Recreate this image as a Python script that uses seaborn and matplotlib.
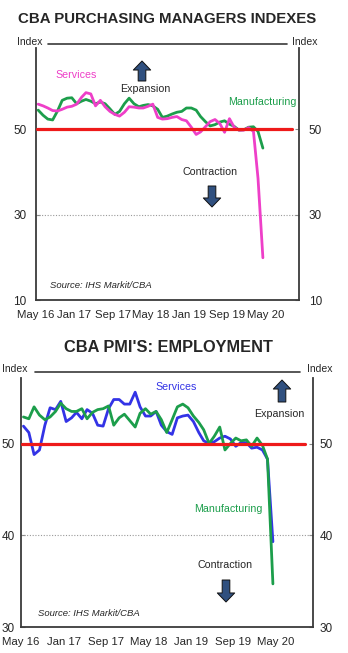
import numpy as np
import pandas as pd
import matplotlib
matplotlib.use("Agg")
import matplotlib.pyplot as plt
from matplotlib.lines import Line2D
from matplotlib.patches import FancyArrowPatch
import seaborn as sns

# ---------------- data ----------------
months = pd.date_range("2016-05-01", periods=48, freq="MS") + pd.Timedelta(days=14)

pmi_services = [55.9, 55.5, 55.0, 54.4, 54.3, 54.7, 55.2, 55.4, 55.9, 57.5,
                58.6, 58.3, 55.5, 56.8, 55.3, 54.2, 53.5, 53.1, 54.0, 55.3,
                55.2, 55.0, 55.0, 55.4, 55.9, 52.8, 52.4, 52.5, 52.8, 53.0,
                52.3, 52.0, 50.5, 48.8, 49.4, 50.6, 51.8, 52.3, 51.4, 49.3,
                52.5, 50.5, 49.8, 49.8, 50.4, 49.5, 38.5, 19.9]
pmi_manufacturing = [54.5, 53.3, 52.4, 52.2, 54.3, 56.8, 57.3, 57.4, 56.0, 56.6,
                     57.0, 56.6, 56.0, 56.4, 56.0, 54.8, 53.5, 54.2, 56.0, 57.3,
                     56.0, 55.3, 55.6, 55.8, 55.5, 54.7, 52.8, 53.1, 53.6, 54.0,
                     54.2, 55.0, 55.0, 54.5, 53.0, 51.8, 50.8, 51.1, 51.7, 52.0,
                     51.2, 50.7, 49.8, 49.9, 50.5, 50.6, 49.5, 45.6]

emp_services = [51.9, 51.2, 48.8, 49.3, 52.0, 53.9, 53.7, 54.6, 52.4, 52.8,
                53.4, 52.7, 53.7, 53.3, 52.0, 51.9, 53.8, 54.8, 54.8, 54.3,
                54.3, 55.6, 54.0, 53.0, 53.0, 53.5, 52.0, 51.3, 51.0, 52.8,
                53.0, 53.1, 52.4, 51.2, 50.3, 50.0, 50.2, 50.6, 50.8, 50.5,
                49.7, 50.1, 50.1, 49.5, 49.6, 49.3, 48.3, 39.3]
emp_manufacturing = [52.9, 52.7, 54.0, 53.1, 52.6, 52.9, 53.5, 54.4, 53.8, 53.5,
                     53.5, 53.8, 52.7, 53.4, 53.7, 53.8, 54.1, 52.0, 52.8, 53.2,
                     52.5, 51.8, 53.3, 53.8, 53.2, 53.5, 52.6, 51.2, 52.6, 54.0,
                     54.3, 53.9, 53.0, 52.3, 51.5, 50.0, 50.8, 51.8, 49.3, 50.0,
                     50.6, 50.3, 50.4, 49.7, 50.6, 49.8, 48.3, 34.7]

xtick_dates = pd.date_range("2016-05-01", "2020-05-01", freq="8MS")
top_yticks = [10, 30, 50]
bot_yticks = [30, 40, 50]

# ---------------- style ----------------
sns.set_style("white")
plt.rcParams["font.family"] = ["Liberation Sans", "DejaVu Sans"]

W, H = 348, 653
fig = plt.figure(figsize=(W / 100, H / 100), dpi=100)

PINK = "#ee3fc8"
GREEN = "#1c9e4b"
BLUE = "#3333e6"
RED = "#ee1a1a"
SPINE = "#3a3a3a"
ARROW = "#30507f"


def ax_rect(left, right, top, bottom):
    return [left / W, 1 - bottom / H, (right - left) / W, (bottom - top) / H]


def ftext(x, y, s, **kw):
    kw.setdefault("ha", "center")
    kw.setdefault("va", "center")
    fig.text(x / W, 1 - y / H, s, **kw)


def fline(x0, x1, y):
    fig.add_artist(Line2D([x0 / W, x1 / W], [1 - y / H, 1 - y / H],
                          transform=fig.transFigure, color=SPINE, lw=1.2))


def farrow(x, y_tail, y_tip):
    arr = FancyArrowPatch(
        (x / W, 1 - y_tail / H), (x / W, 1 - y_tip / H),
        transform=fig.transFigure,
        arrowstyle="simple,head_width=1.25,head_length=0.65,tail_width=0.55",
        mutation_scale=10, fc=ARROW, ec="#111111", lw=0.7,
        shrinkA=0, shrinkB=0, zorder=6)
    fig.add_artist(arr)


def style_axes(ax, ylim, yticks, spine_top, grid_val, xlabsize, ylabpad):
    ax.set_xlim(pd.Timestamp("2016-05-01"), pd.Timestamp("2020-12-01"))
    ax.set_ylim(*ylim)
    ax.axhline(grid_val, color="#9a9a9a", lw=0.8, ls=(0, (1, 1.5)), zorder=1)
    ax.axhline(50, xmin=0.004, xmax=0.973, color=RED, lw=2.3, zorder=5)
    ax.set_xticks(xtick_dates)
    ax.set_xticklabels([d.strftime("%b %y") for d in xtick_dates])
    ax.set_yticks(yticks)
    ax.set_yticklabels([str(v) for v in yticks])
    ax.tick_params(axis="x", direction="in", length=4, width=1, color=SPINE,
                   labelsize=xlabsize, pad=7)
    ax.tick_params(axis="y", direction="in", length=3, width=0.8, color="#888888",
                   labelsize=8.5, pad=ylabpad, left=True, right=True,
                   labelleft=True, labelright=True)
    ax.set_xlabel("")
    ax.set_ylabel("")
    ax.spines["top"].set_visible(False)
    for s in ["left", "right", "bottom"]:
        ax.spines[s].set_color(SPINE)
        ax.spines[s].set_linewidth(1.3)
        ax.spines[s].set_visible(True)
    ax.spines["left"].set_bounds(ylim[0], spine_top)
    ax.spines["right"].set_bounds(ylim[0], spine_top)


# ---------------- top panel ----------------
ax1 = fig.add_axes(ax_rect(36, 299, 44, 300))
df1 = pd.DataFrame({
    "date": list(months) * 2,
    "value": pmi_manufacturing + pmi_services,
    "series": ["Manufacturing"] * 48 + ["Services"] * 48,
})
sns.lineplot(data=df1, x="date", y="value", hue="series",
             palette={"Manufacturing": GREEN, "Services": PINK},
             linewidth=2.0, legend=False, ax=ax1)
style_axes(ax1, (10, 70), top_yticks, 69.0, 30, 8.2, 7)

# ---------------- bottom panel ----------------
ax2 = fig.add_axes(ax_rect(21, 313, 372, 627))
df2 = pd.DataFrame({
    "date": list(months) * 2,
    "value": emp_services + emp_manufacturing,
    "series": ["Services"] * 48 + ["Manufacturing"] * 48,
})
sns.lineplot(data=df2, x="date", y="value", hue="series",
             palette={"Manufacturing": GREEN, "Services": BLUE},
             linewidth=2.0, legend=False, ax=ax2)
style_axes(ax2, (30, 57.8), bot_yticks, 57.1, 40, 8.2, 4.5)

# ---------------- titles and frame text ----------------
ftext(167, 19, "CBA PURCHASING MANAGERS INDEXES", fontsize=10.8, fontweight="bold")
ftext(168, 347, "CBA PMI'S: EMPLOYMENT", fontsize=11.8, fontweight="bold")

ftext(30, 42, "Index", fontsize=7.5)
ftext(305, 42, "Index", fontsize=7.5)
fline(48, 287, 44)
ftext(15, 369, "Index", fontsize=7.5)
ftext(320, 369, "Index", fontsize=7.5)
fline(35, 300, 372)

# top annotations
ftext(76, 75, "Services", fontsize=7.7, color=PINK)
ftext(145, 89, "Expansion", fontsize=7.7)
ftext(262, 102, "Manufacturing", fontsize=7.7, color=GREEN)
ftext(210, 172, "Contraction", fontsize=7.7)
ftext(50, 286, "Source: IHS Markit/CBA", fontsize=6.8, style="italic", ha="left")
farrow(142, 81, 61)
farrow(212, 186, 207)

# bottom annotations
ftext(176, 387, "Services", fontsize=7.7, color=BLUE)
ftext(279, 414, "Expansion", fontsize=7.7)
ftext(228, 509, "Manufacturing", fontsize=7.7, color=GREEN)
ftext(225, 565, "Contraction", fontsize=7.7)
ftext(38, 613, "Source: IHS Markit/CBA", fontsize=6.8, style="italic", ha="left")
farrow(282, 402, 380)
farrow(226, 580, 602)

fig.savefig("out.png", dpi=100)
